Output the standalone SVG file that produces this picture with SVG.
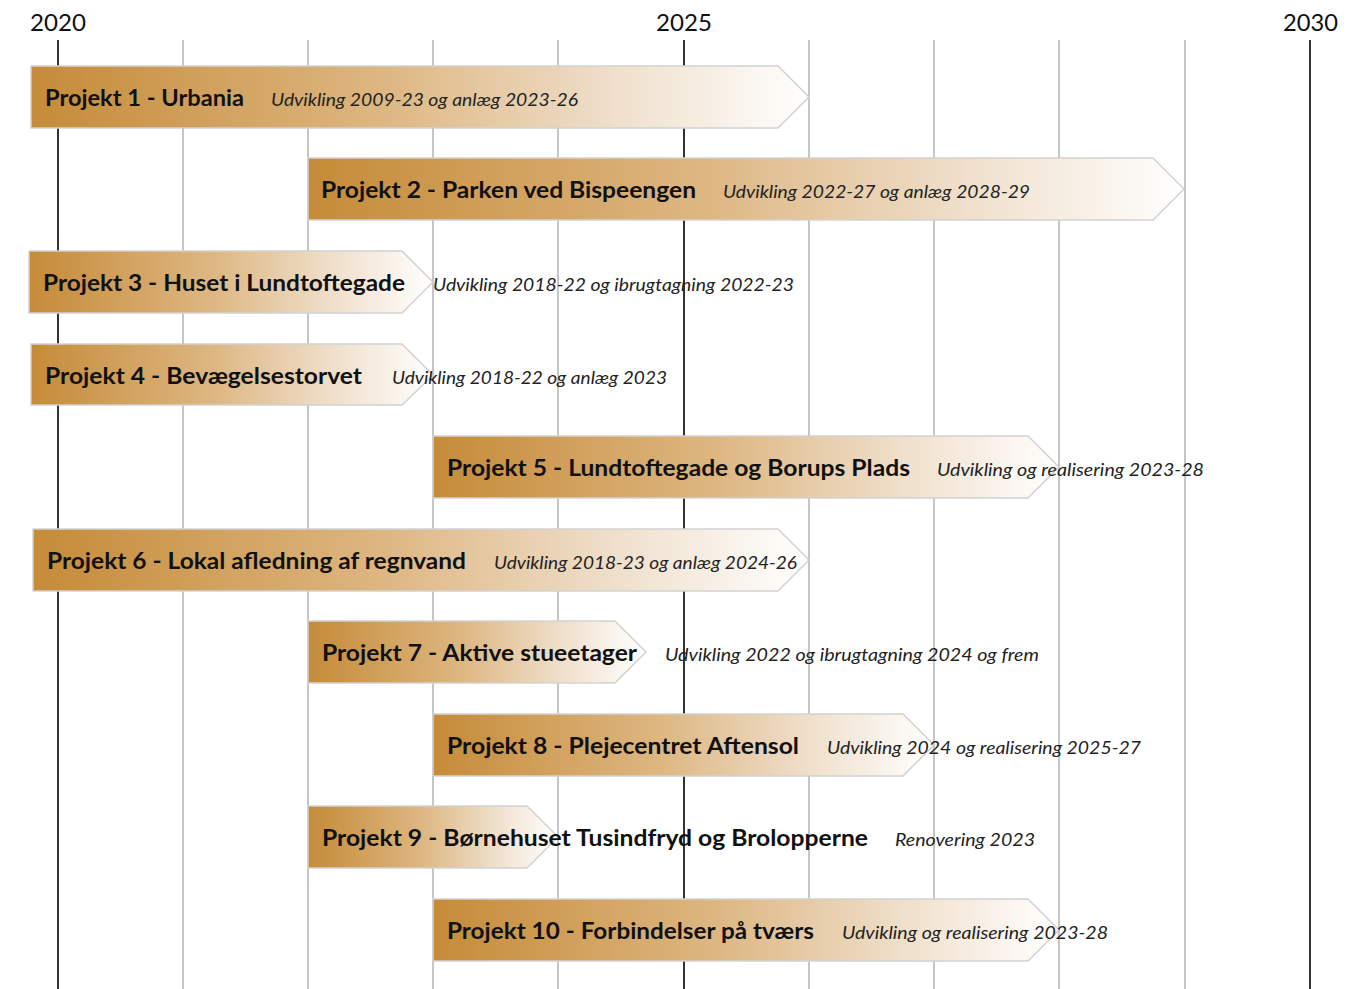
<svg xmlns="http://www.w3.org/2000/svg" width="1369" height="989" viewBox="0 0 1369 989">
<defs>
<linearGradient id="g" x1="0" y1="0" x2="1" y2="0">
<stop offset="0" stop-color="#C58B38"/>
<stop offset="0.45" stop-color="#DDB681"/>
<stop offset="0.75" stop-color="#EFDFCB"/>
<stop offset="1" stop-color="#FFFFFF"/>
</linearGradient>
<style>
.minor{stroke:#C6C6C6;stroke-width:2}
.major{stroke:#333333;stroke-width:2}
.yr{font-family:Lato,"Liberation Sans",sans-serif;font-size:23px;fill:#111}
.bar{fill:url(#g);stroke:#D2D2D2;stroke-width:1.5}
.t{font-family:Lato,"Liberation Sans",sans-serif;font-weight:bold;font-size:22px;fill:#111}
.s{font-family:Lato,"Liberation Sans",sans-serif;font-style:italic;font-size:17.5px;fill:#222}
</style>
</defs>
<rect width="1369" height="989" fill="#fff"/>
<g id="grid">
<line class="major" x1="58" y1="40" x2="58" y2="989"/>
<line class="minor" x1="183" y1="40" x2="183" y2="989"/>
<line class="minor" x1="308" y1="40" x2="308" y2="989"/>
<line class="minor" x1="433" y1="40" x2="433" y2="989"/>
<line class="minor" x1="558" y1="40" x2="558" y2="989"/>
<line class="major" x1="684" y1="40" x2="684" y2="989"/>
<line class="minor" x1="809" y1="40" x2="809" y2="989"/>
<line class="minor" x1="934" y1="40" x2="934" y2="989"/>
<line class="minor" x1="1059" y1="40" x2="1059" y2="989"/>
<line class="minor" x1="1185" y1="40" x2="1185" y2="989"/>
<line class="major" x1="1310" y1="40" x2="1310" y2="989"/>
<text class="yr" x="30" y="31" textLength="56" lengthAdjust="spacingAndGlyphs">2020</text>
<text class="yr" x="656" y="31" textLength="56" lengthAdjust="spacingAndGlyphs">2025</text>
<text class="yr" x="1283" y="31" textLength="55" lengthAdjust="spacingAndGlyphs">2030</text>
</g>
<g id="p1"><path class="bar" d="M31,66H778L809,97L778,128H31Z"/><text class="t" x="45" y="106" textLength="199" lengthAdjust="spacingAndGlyphs">Projekt 1 - Urbania</text><text class="s" x="271" y="106" textLength="307" lengthAdjust="spacingAndGlyphs">Udvikling 2009-23 og anlæg 2023-26</text></g>
<g id="p2"><path class="bar" d="M308,158H1153L1184,189L1153,220H308Z"/><text class="t" x="321" y="198" textLength="375" lengthAdjust="spacingAndGlyphs">Projekt 2 - Parken ved Bispeengen</text><text class="s" x="723" y="198" textLength="307" lengthAdjust="spacingAndGlyphs">Udvikling 2022-27 og anlæg 2028-29</text></g>
<g id="p3"><path class="bar" d="M29,251H402L433,282L402,313H29Z"/><text class="t" x="43" y="291" textLength="362" lengthAdjust="spacingAndGlyphs">Projekt 3 - Huset i Lundtoftegade</text><text class="s" x="433" y="291" textLength="361" lengthAdjust="spacingAndGlyphs">Udvikling 2018-22 og ibrugtagning 2022-23</text></g>
<g id="p4"><path class="bar" d="M31,344H402L433,375L402,405H31Z"/><text class="t" x="45" y="384" textLength="317" lengthAdjust="spacingAndGlyphs">Projekt 4 - Bevægelsestorvet</text><text class="s" x="392" y="384" textLength="275" lengthAdjust="spacingAndGlyphs">Udvikling 2018-22 og anlæg 2023</text></g>
<g id="p5"><path class="bar" d="M433,436H1028L1059,467L1028,498H433Z"/><text class="t" x="447" y="476" textLength="463" lengthAdjust="spacingAndGlyphs">Projekt 5 - Lundtoftegade og Borups Plads</text><text class="s" x="937" y="476" textLength="267" lengthAdjust="spacingAndGlyphs">Udvikling og realisering 2023-28</text></g>
<g id="p6"><path class="bar" d="M33,529H778L809,560L778,591H33Z"/><text class="t" x="47" y="569" textLength="419" lengthAdjust="spacingAndGlyphs">Projekt 6 - Lokal afledning af regnvand</text><text class="s" x="494" y="569" textLength="303" lengthAdjust="spacingAndGlyphs">Udvikling 2018-23 og anlæg 2024-26</text></g>
<g id="p7"><path class="bar" d="M308,621H615L646,652L615,683H308Z"/><text class="t" x="322" y="661" textLength="315" lengthAdjust="spacingAndGlyphs">Projekt 7 - Aktive stueetager</text><text class="s" x="665" y="661" textLength="374" lengthAdjust="spacingAndGlyphs">Udvikling 2022 og ibrugtagning 2024 og frem</text></g>
<g id="p8"><path class="bar" d="M433,714H903L934,745L903,776H433Z"/><text class="t" x="447" y="754" textLength="352" lengthAdjust="spacingAndGlyphs">Projekt 8 - Plejecentret Aftensol</text><text class="s" x="827" y="754" textLength="314" lengthAdjust="spacingAndGlyphs">Udvikling 2024 og realisering 2025-27</text></g>
<g id="p9"><path class="bar" d="M308,806H527L558,837L527,868H308Z"/><text class="t" x="322" y="846" textLength="546" lengthAdjust="spacingAndGlyphs">Projekt 9 - Børnehuset Tusindfryd og Brolopperne</text><text class="s" x="895" y="846" textLength="140" lengthAdjust="spacingAndGlyphs">Renovering 2023</text></g>
<g id="p10"><path class="bar" d="M433,899H1028L1059,930L1028,961H433Z"/><text class="t" x="447" y="939" textLength="367" lengthAdjust="spacingAndGlyphs">Projekt 10 - Forbindelser på tværs</text><text class="s" x="842" y="939" textLength="266" lengthAdjust="spacingAndGlyphs">Udvikling og realisering 2023-28</text></g>
</svg>
